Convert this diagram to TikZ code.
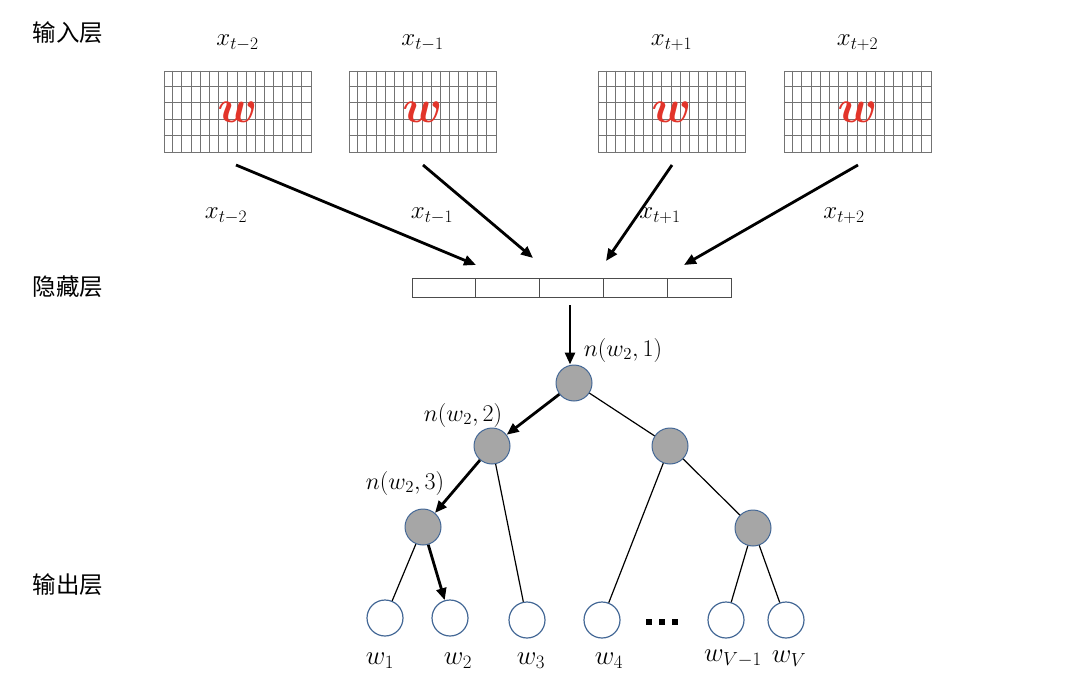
\RequirePackage{fix-cm}
\documentclass[tikz,border=0pt]{standalone}
\usepackage{amsmath}
\usepackage{fontspec}
\newfontfamily\cjk{Noto Sans CJK SC}
\usetikzlibrary{arrows.meta,calc}
\definecolor{wred}{RGB}{226,52,42}
\definecolor{nodeblue}{RGB}{68,104,150}
\definecolor{nodegray}{RGB}{166,166,166}
\definecolor{gridgray}{RGB}{115,115,115}
\begin{document}
\begin{tikzpicture}[x=1pt,y=-1pt,
  layerlabel/.style={font=\cjk\fontsize{23.5}{26}\selectfont, anchor=center},
  mlabel/.style={font=\fontsize{25}{28}\selectfont, anchor=center},
  wlabel/.style={font=\fontsize{27}{30}\selectfont, anchor=center},
  nlabel/.style={font=\fontsize{24}{27}\selectfont, anchor=center},
  matbox/.style={draw=gridgray, line width=1pt, minimum width=147pt, minimum height=81pt, inner sep=0pt},
  wmark/.style={font=\fontsize{46}{50}\selectfont, text=wred},
  cell/.style={draw=black!70, line width=1pt, minimum width=63.8pt, minimum height=19pt, inner sep=0pt},
  inner/.style={circle, draw=nodeblue, fill=nodegray, line width=1pt, minimum size=36pt, inner sep=0pt},
  leaf/.style={circle, draw=nodeblue, fill=white, line width=1.2pt, minimum size=36pt, inner sep=0pt},
  thickarrow/.style={line width=2.8pt, -{Triangle[length=12pt,width=10pt]}},
  thinline/.style={line width=1.2pt},
  dotsq/.style={fill=black, minimum size=6.5pt, inner sep=0pt}
]
\useasboundingbox (0,0) rectangle (1080,680);
% layer labels
\node[layerlabel] (Lin) at (68,33) {输入层};
\node[layerlabel] (Lhid) at (68,287) {隐藏层};
\node[layerlabel] (Lout) at (68,585) {输出层};
% matrices
\foreach \name/\cx/\lab in {m1/237.5/{t-2}, m2/422.5/{t-1}, m3/671.5/{t+1}, m4/857.5/{t+2}}{
  \node[matbox] (\name) at (\cx,111.5) {};
  \foreach \i in {1,...,15}{
    \draw[gridgray, line width=1pt] ($(\name.north west)+(\i*9.1875,0)$) -- ($(\name.south west)+(\i*9.1875,0)$);
  }
  \foreach \j in {1,...,4}{
    \draw[gridgray, line width=1pt] ($(\name.north west)+(0,\j*16.2)$) -- ($(\name.north east)+(0,\j*16.2)$);
  }
  \node[wmark] (\name w) at (\cx,112) {$\boldsymbol{w}$};
  \node[mlabel] (\name lab) at (\cx,43) {$x_{\lab}$};
}
% hidden layer
\foreach \i in {1,...,5}{
  \node[cell] (h\i) at ({412+31.9+63.8*(\i-1)},287.5) {};
}
% input arrows
\coordinate (a1s) at (236,165); \coordinate (a1e) at (476,265);
\coordinate (a2s) at (423,165); \coordinate (a2e) at (533,258);
\coordinate (a3s) at (672,165); \coordinate (a3e) at (606,261);
\coordinate (a4s) at (858,165); \coordinate (a4e) at (684,265);
\draw[thickarrow] (a1s) -- (a1e);
\draw[thickarrow] (a2s) -- (a2e);
\draw[thickarrow] (a3s) -- (a3e);
\draw[thickarrow] (a4s) -- (a4e);
\node[mlabel] (l1) at (226,216) {$x_{t-2}$};
\node[mlabel] (l2) at (432,216) {$x_{t-1}$};
\node[mlabel] (l3) at (660,216) {$x_{t+1}$};
\node[mlabel] (l4) at (844,216) {$x_{t+2}$};
% tree
\node[inner] (r) at (574,383) {};
\node[inner] (b1) at (492,446) {};
\node[inner] (b2) at (670,446) {};
\node[inner] (c1) at (423,527) {};
\node[inner] (c2) at (753,528) {};
\node[leaf] (w1) at (385,618) {};
\node[leaf] (w2) at (450,618) {};
\node[leaf] (w3) at (527,620) {};
\node[leaf] (w4) at (602,620) {};
\node[leaf] (wv1) at (726,620) {};
\node[leaf] (wv) at (786,620) {};
\coordinate (hs) at (570,305);
\draw[thickarrow] (hs) -- (r.north -| hs);
\draw[thickarrow] (r) -- (b1);
\draw[thickarrow] (b1) -- (c1);
\draw[thickarrow] (c1) -- (w2);
\draw[thinline] (r) -- (b2);
\draw[thinline] (b1) -- (w3);
\draw[thinline] (c1) -- (w1);
\draw[thinline] (b2) -- (w4);
\draw[thinline] (b2) -- (c2);
\draw[thinline] (c2) -- (wv1);
\draw[thinline] (c2) -- (wv);
\node[nlabel] (n1) at (623,350) {$n(w_2,1)$};
\node[nlabel] (n2) at (463,415) {$n(w_2,2)$};
\node[nlabel] (n3) at (405,483) {$n(w_2,3)$};
% dots
\node[dotsq] (d1) at (649,622) {};
\node[dotsq] (d2) at (662,622) {};
\node[dotsq] (d3) at (675,622) {};
% leaf labels
\node[wlabel] (t1) at (380,661) {$w_1$};
\node[wlabel] (t2) at (458,661) {$w_2$};
\node[wlabel] (t3) at (531,661) {$w_3$};
\node[wlabel] (t4) at (609,661) {$w_4$};
\node[wlabel] (t5) at (733,658) {$w_{V-1}$};
\node[wlabel] (t6) at (789,659) {$w_V$};
\end{tikzpicture}
\end{document}
